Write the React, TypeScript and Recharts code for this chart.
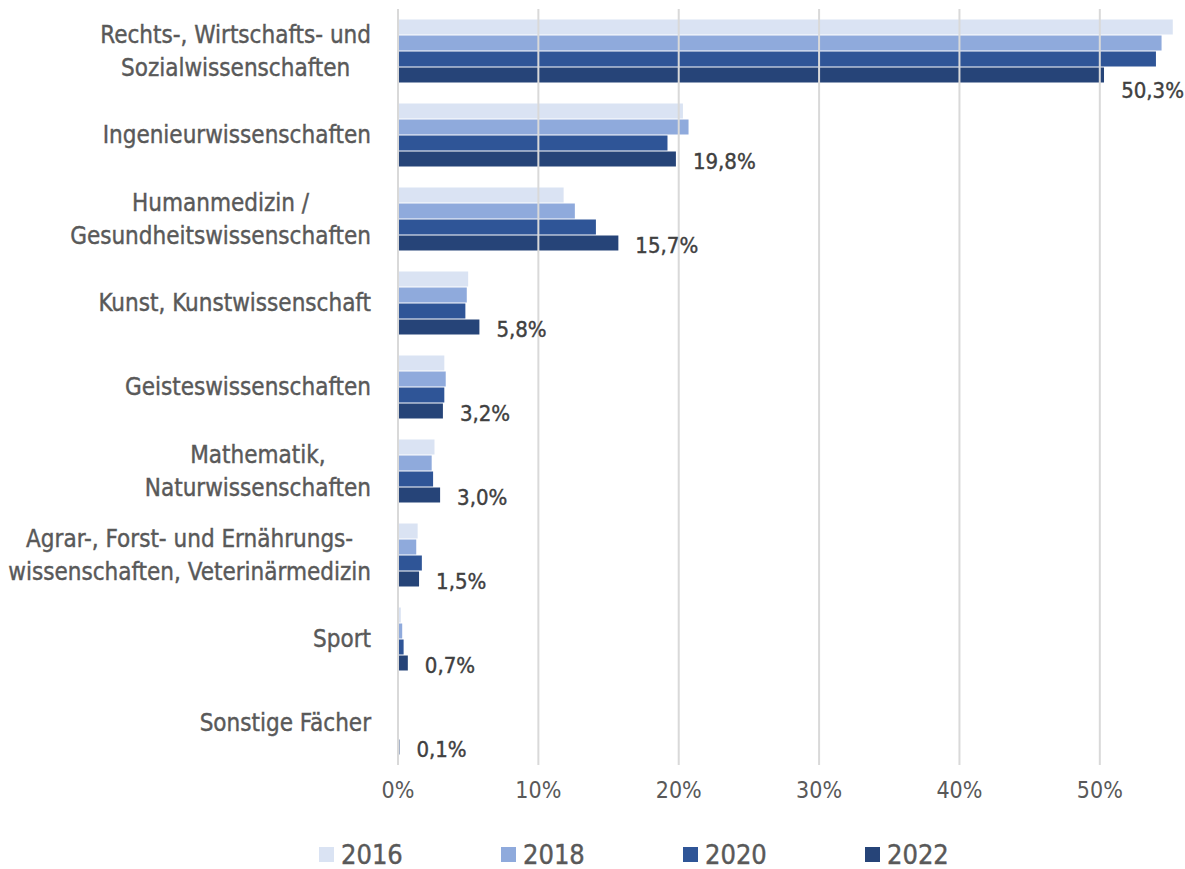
import React from 'react'
import { Bar, BarChart, LabelList, Legend, ReferenceLine, XAxis, YAxis } from 'recharts'

const categories = [
    'Rechts-, Wirtschafts- und\nSozialwissenschaften',
    'Ingenieurwissenschaften',
    'Humanmedizin /\nGesundheitswissenschaften',
    'Kunst, Kunstwissenschaft',
    'Geisteswissenschaften',
    'Mathematik,\nNaturwissenschaften',
    'Agrar-, Forst- und Ernährungs-\nwissenschaften, Veterinärmedizin',
    'Sport',
    'Sonstige Fächer',
]

const years = ['2016', '2018', '2020', '2022']
const values2016 = [55.2, 20.3, 11.8, 5.0, 3.3, 2.6, 1.4, 0.2, 0.05]
const values2018 = [54.4, 20.7, 12.6, 4.9, 3.4, 2.4, 1.3, 0.3, 0.05]
const values2020 = [54.0, 19.2, 14.1, 4.8, 3.3, 2.5, 1.7, 0.4, 0.05]
const values2022 = [50.3, 19.8, 15.7, 5.8, 3.2, 3.0, 1.5, 0.7, 0.1]
const xTicks = [0, 10, 20, 30, 40, 50]

const colors = ['#DAE3F3', '#8FAADC', '#2F5597', '#264478']

const W = 1185
const H = 869
const labelFont = '"DejaVu Sans Condensed", "DejaVu Sans", sans-serif'
const narrowFont = '"Liberation Sans Narrow", "DejaVu Sans Condensed", sans-serif'

const data = categories.map((name, i) => ({
    name,
    '2016': values2016[i],
    '2018': values2018[i],
    '2020': values2020[i],
    '2022': values2022[i],
}))

let ctx: CanvasRenderingContext2D | null = null
const textWidth = (s: string, font: string) => {
    if (!ctx) ctx = document.createElement('canvas').getContext('2d')
    if (!ctx) return s.length * 11
    ctx.font = font
    return ctx.measureText(s).width
}

const CategoryTick = (props: any) => {
    const { x, y, payload } = props
    const lines: string[] = String(payload.value).split('\n')
    const lh = 33
    const maxW = Math.max(...lines.map(l => textWidth(l, `24px "DejaVu Sans Condensed"`)))
    const cx = x - 19 - maxW / 2
    const top = y - ((lines.length - 1) * lh) / 2
    return (
        <g>
            {lines.map((l, i) => (
                <text key={i} x={cx} y={top + i * lh} textAnchor="middle" dominantBaseline="central"
                    fill="#595959" fontSize={24} fontFamily={labelFont} stroke="#595959" strokeWidth={0.4}>
                    {l}
                </text>
            ))}
        </g>
    )
}

const PercentTick = (props: any) => {
    const { x, y, payload } = props
    return (
        <text x={x} y={y + 17} textAnchor="middle" dominantBaseline="central"
            fill="#595959" fontSize={23} fontFamily={narrowFont}>
            {payload.value}%
        </text>
    )
}

const ValueLabel = (props: any) => {
    const { x, y, width, height, value } = props
    const txt = String(Number(value).toFixed(1)).replace('.', ',') + '%'
    const end = x + width
    const cy = y + height / 2
    // Label near the right border moves under the bar
    if (end + 17 + 70 > W) {
        return (
            <text x={W - 1} y={cy + 15} textAnchor="end" dominantBaseline="central"
                fill="#404040" fontSize={22} fontFamily={labelFont} stroke="#404040" strokeWidth={0.4}>{txt}</text>
        )
    }
    return (
        <text x={end + 17} y={cy + 2} textAnchor="start" dominantBaseline="central"
            fill="#404040" fontSize={22} fontFamily={labelFont} stroke="#404040" strokeWidth={0.4}>{txt}</text>
    )
}

const LegendContent = () => (
    <div style={{ position: 'relative', height: 60, width: W }}>
        {years.map((yr, i) => (
            <div key={yr} style={{ position: 'absolute', left: 319 + i * 182, top: 32, display: 'flex', alignItems: 'center' }}>
                <span style={{ width: 15, height: 15, background: colors[i], display: 'inline-block', marginRight: 7 }} />
                <span style={{ fontSize: 27, color: '#595959', fontFamily: labelFont, lineHeight: '27px', WebkitTextStroke: '0.4px #595959' }}>{yr}</span>
            </div>
        ))}
    </div>
)

const App = () => {
    return (
        <div style={{ position: 'absolute', left: 0, top: 0, width: W, height: H, background: '#fff' }}>
            <BarChart width={W} height={H} data={data} layout="vertical"
                margin={{ top: 9, right: 8, bottom: 0, left: 0 }}
                barCategoryGap="12.5%" barGap={1}>
                <XAxis type="number" domain={[0, 55.5]} ticks={xTicks} height={44}
                    axisLine={false} tickLine={false} tick={<PercentTick />} interval={0} />
                <YAxis type="category" dataKey="name" width={398} axisLine={{ stroke: '#D9D9D9', strokeWidth: 2 }}
                    tickLine={false} tick={<CategoryTick />} interval={0} />
                {xTicks.slice(1).map(t => (
                    <ReferenceLine key={t} x={t} stroke="#D9D9D9" strokeWidth={2} />
                ))}
                <Legend verticalAlign="bottom" height={60} content={<LegendContent />} />
                {years.map((yr, i) => (
                    <Bar key={yr} dataKey={yr} fill={colors[i]} isAnimationActive={false}>
                        {yr === '2022' && <LabelList dataKey={yr} content={<ValueLabel />} />}
                    </Bar>
                ))}
            </BarChart>
        </div>
    )
}

export default App
